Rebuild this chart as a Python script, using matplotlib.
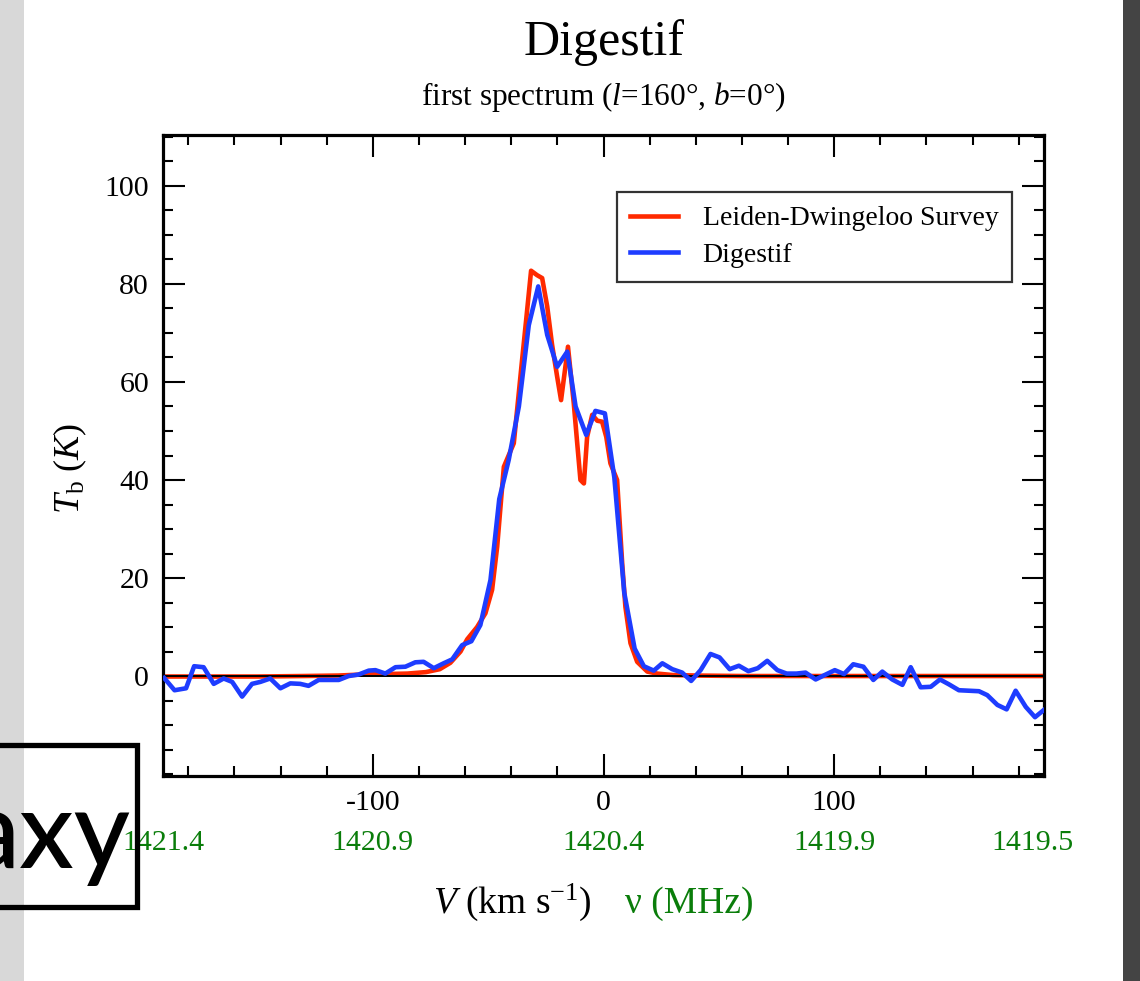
import matplotlib
matplotlib.use("Agg")
import matplotlib.pyplot as plt
from matplotlib.patches import Rectangle
import matplotlib.transforms as mtransforms
from matplotlib.ticker import MultipleLocator

# ---------------- data ----------------
v_lds = [-191, -170, -150, -130, -115, -105, -95, -85, -77, -71, -66.4, -62, -59.1,
         -54.8, -51.2, -48.3, -46.1, -44.3, -43.2, -38.9, -35.3, -33.4, -31.4, -28.8,
         -26.6, -24.4, -22.3, -20.1, -18.4, -15.4, -12.9, -11.4, -10, -8.5, -7.1, -4.9,
         -2.7, -0.6, 1.2, 3, 5.9, 8.1, 9.5, 11.7, 14.6, 19, 23.3, 30, 40, 60, 100, 140, 191]
T_lds = [-0.1, -0.1, -0.1, 0.0, 0.1, 0.3, 0.4, 0.5, 0.8, 1.4, 2.7, 5.0, 7.5,
         10.0, 12.8, 17.6, 26.4, 36.6, 42.7, 47.5, 64.5, 73.3, 82.7, 81.8,
         81.2, 75.4, 67.6, 61.1, 56.3, 67.2, 55.7, 47.5, 40.0, 39.3, 48.8, 53.3,
         52.1, 51.9, 48.8, 43.4, 40.0, 23.0, 14.1, 6.7, 2.9, 0.9, 0.5, 0.2, 0.1, 0.0, 0.0, 0.0, 0.0]

v_dig = [-190.5, -186, -181, -177.5, -173.4, -169, -164.7, -161, -156.7, -152.4,
         -148.8, -144.5, -140.1, -135.8, -131.5, -127.9, -123.5, -119.2,
         -114.8, -110.5, -106.2, -101.8, -98.9, -94.6, -90.2, -85.9, -81.6, -78,
         -73.6, -69.3, -65.6, -61.3, -57.3, -53.4, -49, -45.2, -41.1, -36.7,
         -32.4, -28.3, -24.4, -20.1, -15.7, -12.1, -7.5, -3.5, 0.6, 4.7,
         9.0, 13.5, 17.5, 21.8, 25.5, 29.8, 34.1, 38, 42.1, 46.4,
         50.3, 54.7, 58.7, 62.8, 66.9, 71, 75.4, 79.4, 83.7, 87.6,
         92, 95.9, 100.3, 104.3, 108.3, 112.7, 117, 120.9, 125.2, 129.6,
         133.2, 137.5, 141.9, 145.9, 149.8, 154.1, 158.5, 162.8, 166.4, 170.8,
         174.8, 178.7, 183.1, 187.1, 191]
T_dig = [-0.4, -2.9, -2.5, 2.0, 1.8, -1.6, -0.5, -1.2, -4.2, -1.6,
         -1.2, -0.5, -2.5, -1.5, -1.6, -2.0, -0.8, -0.8,
         -0.8, 0.0, 0.3, 1.1, 1.2, 0.5, 1.8, 1.9, 2.8, 2.9,
         1.6, 2.6, 3.4, 6.3, 7.1, 10.4, 19.6, 36.1, 44.1, 55.0,
         71.6, 79.5, 69.6, 63.1, 66.2, 55.0, 49.2, 54.1, 53.6, 40.5,
         17.0, 5.6, 2.0, 1.1, 2.6, 1.4, 0.7, -1.0, 1.2, 4.5,
         3.8, 1.4, 2.1, 1.0, 1.6, 3.1, 1.2, 0.5, 0.5, 0.7,
         -0.7, 0.2, 1.2, 0.4, 2.4, 1.9, -0.8, 0.9, -0.7, -1.8,
         1.8, -2.3, -2.2, -0.7, -1.7, -2.9, -3.0, -3.1, -3.9, -5.9,
         -6.8, -3.0, -6.3, -8.4, -6.9]

x_ticks = [-100, 0, 100]
x_ticklabels = ["-100", "0", "100"]
y_ticks = [0, 20, 40, 60, 80, 100]
freq_positions = [-191, -100, 0, 100, 186]
freq_labels = ["1421.4", "1420.9", "1420.4", "1419.9", "1419.5"]

series_labels = ["Leiden-Dwingeloo Survey", "Digestif"]

# ---------------- style ----------------
plt.rcParams['font.family'] = ['Liberation Serif', 'DejaVu Serif']
plt.rcParams['mathtext.fontset'] = 'custom'
plt.rcParams['mathtext.rm'] = 'Liberation Serif'
plt.rcParams['mathtext.it'] = 'Liberation Serif:italic'
plt.rcParams['mathtext.bf'] = 'Liberation Serif:bold'

RED = '#ff2a00'
BLUE = '#1e3cff'
GREEN = '#0a7d0a'

W, H = 1140, 981
fig = plt.figure(figsize=(W / 100, H / 100), dpi=100)
fig.patch.set_facecolor('white')

# slide decorations (background strips)
fig.patches.append(Rectangle((0, 0), 24 / W, 1, transform=fig.transFigure,
                             facecolor='#d8d8d8', edgecolor='none', zorder=0))
fig.patches.append(Rectangle((1123 / W, 0), 17 / W, 1, transform=fig.transFigure,
                             facecolor='#444444', edgecolor='none', zorder=0))

ax = fig.add_axes([163 / W, 1 - 776 / H, (1044 - 163) / W, (776 - 135) / H])

LW = 3.3
ax.plot(v_lds, T_lds, color=RED, lw=LW, zorder=2, label=series_labels[0], solid_joinstyle='round')
ax.axhline(0, color='black', lw=1.4, zorder=2.5)
ax.plot(v_dig, T_dig, color=BLUE, lw=LW, zorder=3, label=series_labels[1], solid_joinstyle='round')

ax.set_xlim(-191, 191)
ax.set_ylim(-20.4, 110.4)
ax.set_xticks(x_ticks)
ax.set_xticklabels(x_ticklabels)
ax.set_yticks(y_ticks)
ax.xaxis.set_minor_locator(MultipleLocator(20))
ax.yaxis.set_minor_locator(MultipleLocator(5))
ax.tick_params(which='both', direction='in', top=True, right=True, width=1.5,
               labelsize=21.5, pad=10, colors='black')
ax.tick_params(which='major', length=16)
ax.tick_params(which='minor', length=7)
for s in ax.spines.values():
    s.set_linewidth(2.3)

# frequency labels
trans = mtransforms.blended_transform_factory(ax.transData, ax.transAxes)
for pos, lab in zip(freq_positions, freq_labels):
    ax.text(pos, -0.1045, lab, transform=trans, ha='center', va='center',
            color=GREEN, fontsize=21.5, clip_on=False)

leg = ax.legend(loc='upper right', bbox_to_anchor=(0.964, 0.911), borderaxespad=0,
                fontsize=20, frameon=True, fancybox=False, handlelength=1.7,
                handletextpad=0.9, labelspacing=0.4, borderpad=0.5)
leg.get_frame().set_edgecolor('black')
leg.get_frame().set_linewidth(1.6)
for l in leg.get_lines():
    l.set_linewidth(LW)

# titles
fig.text(604 / W, 1 - 55 / H, "Digestif", ha='center', va='baseline', fontsize=36)
fig.text(603 / W, 1 - 105 / H, r"first spectrum ($l$=160°, $b$=0°)", ha='center',
         va='baseline', fontsize=22.5)

# axis labels
fig.text(592 / W, 1 - 913 / H, r"$V$ (km s$^{-1}$)", ha='right', va='baseline', fontsize=27)
fig.text(625 / W, 1 - 913 / H, "ν (MHz)", ha='left', va='baseline', fontsize=27, color=GREEN)
fig.text(70 / W, 1 - 468 / H, r"$T_{\rm b}$ ($K$)", ha='center', va='center',
         rotation=90, fontsize=26)

# overlapping slide box
fig.patches.append(Rectangle((-20 / W, 1 - 907 / H), 157 / W, 162 / H, transform=fig.transFigure,
                             facecolor='none', edgecolor='black', lw=3.8, zorder=5))
fig.text(131 / W, 1 - 868 / H, "axy", ha='right', va='baseline', fontsize=78,
         family=['Lato', 'DejaVu Sans'], weight='medium', color='black', zorder=6)

fig.savefig("out.png", dpi=100)
